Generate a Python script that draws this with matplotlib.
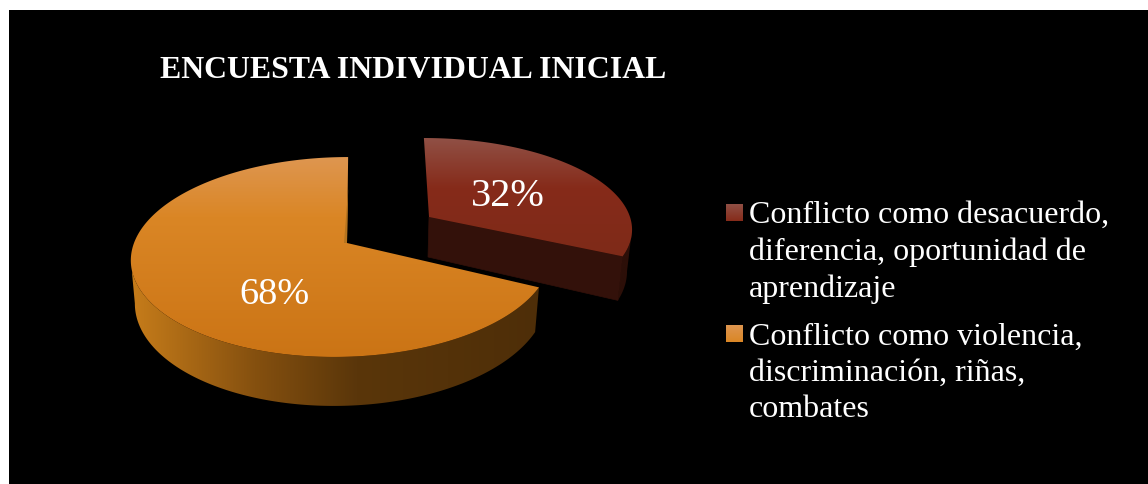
#!/usr/bin/env python3
import numpy as np
import matplotlib
matplotlib.use('Agg')
import matplotlib.pyplot as plt
from matplotlib.colors import LinearSegmentedColormap
from matplotlib.patches import Polygon, Rectangle

title = 'ENCUESTA INDIVIDUAL INICIAL'
labels = ['Conflicto como desacuerdo,\ndiferencia, oportunidad de\naprendizaje',
          'Conflicto como violencia,\ndiscriminación, riñas,\ncombates']
values = [32, 68]

plt.rcParams['font.family'] = ['Liberation Serif', 'DejaVu Serif']

# perspective settings for each slice (pixel coordinates)
red_top = dict(cx=429, cy=218, rx=201, ry=88, k=0.114, s=-5.7, a=0)
red_low = dict(cx=428, cy=258, rx=197, ry=97, k=0.114, s=-5.7, a=0)
org_top = dict(cx=342, cy=244, rx=208, ry=98, k=0.14, s=7, a=5)
org_low = dict(cx=342, cy=286, rx=204, ry=104, k=0.14, s=7, a=5)


def project(u, v, p):
    w = 1 + p['k'] * v
    x = p['cx'] + (p['rx'] * u + p['s'] * v + p['a'] * (1 - u**2 - v**2)) / w
    y = p['cy'] - p['ry'] * v / w
    return np.column_stack([x, y])


def rim(wedge, p):
    t = np.radians(np.linspace(wedge.theta1, wedge.theta2, 300))
    return project(np.cos(t), np.sin(t), p)


def centre(p):
    return project(np.array([0.0]), np.array([0.0]), p)


def gradient(ax, pts, stops, extent, horizontal=False, z=2):
    cmap = LinearSegmentedColormap.from_list('g', stops)
    g = np.linspace(0, 1, 256)
    g = g[None, :] if horizontal else g[:, None]
    patch = Polygon(pts, closed=True, facecolor='none', edgecolor='none', zorder=z)
    ax.add_patch(patch)
    im = ax.imshow(g, cmap=cmap, extent=extent, aspect='auto', zorder=z, origin='upper')
    im.set_clip_path(patch)


fig = plt.figure(figsize=(11.48, 4.85), dpi=100, facecolor='white')
ax = fig.add_axes([0, 0, 1, 1])

wedges, _ = ax.pie(values, startangle=90, counterclock=False)
for w in wedges:
    w.set_visible(False)
red, org = wedges

ax.add_patch(Rectangle((9, 11), 1139, 474, facecolor='black', edgecolor='none', zorder=0))

# orange slice, the wall starts at the left silhouette of the rim
r1 = rim(org, org_top)
r2 = rim(org, org_low)
i1, i2 = np.argmin(r1[:, 0]), np.argmin(r2[:, 0])
org_stops = [(0, '#c67c1a'), (0.30, '#85500f'), (0.55, '#5a360a'), (1, '#4e2e08')]
gradient(ax, np.vstack([r1[i1:], r2[i2:][::-1]]), org_stops, (132, 541, 420, 240), horizontal=True, z=2)
apex = centre(org_top)
org_face = [(0, '#de9650'), (0.30, '#da8625'), (1, '#cb7415')]
gradient(ax, np.vstack([apex, r1]), org_face, (120, 560, 358, 158), z=3)
# thin sliver of the cut side, just left of the upper edge
ax.add_patch(Polygon(np.vstack([r1[0] + [0, 32], apex, apex + [-3, 0]]), closed=True,
                     facecolor='#b5741f', edgecolor='none', zorder=3.5))

# red slice, the wall ends at the right silhouette of the rim
r1 = rim(red, red_top)
r2 = rim(red, red_low)
i1, i2 = np.argmax(r1[:, 0]), np.argmax(r2[:, 0])
gradient(ax, np.vstack([r1[:i1 + 1], r2[:i2 + 1][::-1]]), ['#2c0f08', '#2c0f08'], (420, 640, 310, 130),
         horizontal=True, z=2)
a1, a2 = centre(red_top), centre(red_low)
ax.add_patch(Polygon(np.vstack([a1, r1[:1], r2[:1], a2]), closed=True,
                     facecolor='#33110a', edgecolor='#33110a', lw=0.5, zorder=2.5))
red_face = [(0, '#905045'), (0.40, '#862b1a'), (1, '#7e2a18')]
gradient(ax, np.vstack([a1, r1]), red_face, (420, 640, 262, 139), z=3)

# value labels
ax.text(508, 197, f'{values[0]}%', color='white', fontsize=29, ha='center', va='center', zorder=5)
ax.text(274, 295, f'{values[1]}%', color='white', fontsize=27.5, ha='center', va='center', zorder=5)

ax.text(160, 78, title, color='white', fontsize=22.9, fontweight='bold', ha='left', va='baseline', zorder=5)

# legend, y is the baseline of the last line
swatches = [['#905045', '#862b1a'], ['#de9650', '#da8625']]
for i, (y, y0) in enumerate([(297, 205), (417, 326)]):
    pts = [(726, y0), (743, y0), (743, y0 + 17), (726, y0 + 17)]
    gradient(ax, pts, swatches[i], (726, 743, y0 + 17, y0), z=4)
    ax.text(749, y, labels[i], color='white', fontsize=23, ha='left', va='baseline',
            linespacing=1.33, zorder=5)

ax.set_aspect('auto')
ax.set_xlim(0, 1148)
ax.set_ylim(485, 0)
ax.axis('off')

fig.savefig('out.png', dpi=100, facecolor='white')
